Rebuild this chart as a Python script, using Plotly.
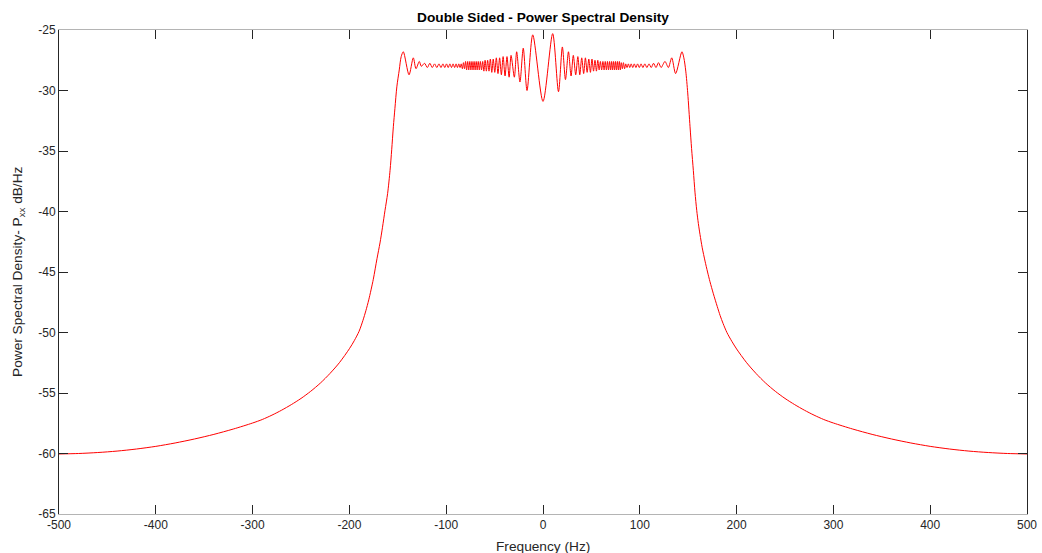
import plotly.graph_objects as go

# ---- data ----
left_tail_freq = [-500, -480, -460, -440, -420, -400, -380, -360, -340, -320, -300, -290,
                  -280, -270, -260, -250, -240, -230, -220, -210, -200, -195, -190, -186,
                  -183, -180, -175.3, -171.5, -168.4, -165.8, -163.2, -160.5, -158, -156.3,
                  -154.6, -153, -151, -148.5, -146.5]
left_tail_db = [-60.04, -60.0, -59.92, -59.8, -59.63, -59.41, -59.13, -58.8, -58.42, -57.98, -57.48, -57.19,
                -56.83, -56.42, -55.96, -55.45, -54.86, -54.18, -53.38, -52.46, -51.34, -50.68, -49.9, -49.0,
                -48.2, -47.3, -45.6, -43.9, -42.6, -41.3, -39.9, -38.5, -36.6, -34.9,
                -33.0, -31.5, -29.7, -28.3, -27.2]

ripple_freq = [-144.3, -138.4, -134, -131.2, -127.8, -125.7, -122.4, -119.5, -116.9, -114.4,
               -112.0, -109.7, -107.5, -105.4, -103.4, -101.5, -99.7, -97.9, -96.2, -94.5,
               -92.9, -91.3, -89.8, -88.4, -87.0, -85.7, -84.5, -83.3, -82.2, -81.1,
               -80.0, -78.9, -77.8, -76.7, -75.6, -74.5, -73.4, -72.3, -71.2, -70.1,
               -69.0, -68.0, -66.9, -65.8, -64.7, -63.5, -62.3, -61.1, -59.8, -58.5,
               -57.2, -55.8, -54.4, -52.9, -51.4, -49.8, -48.2, -46.5, -44.8, -43.0,
               -41.2, -39.2, -37.2, -35, -33, -29.6, -27.2, -23.8, -20.4, -16.5,
               -10.6, 0,
               10, 16, 20, 23.2, 26.3, 29, 31.3, 33.8, 36, 38,
               40, 42, 43.8, 45.6, 47.3, 49, 50.6, 52.2, 53.7, 55.2,
               56.6, 58, 59.3, 60.6, 61.9, 63.1, 64.3, 65.5, 66.6, 67.7,
               68.8, 69.9, 70.9, 71.9, 72.9, 73.9, 74.9, 75.9, 76.9, 77.9,
               78.9, 79.9, 80.9, 82, 83.1, 84.3, 85.5, 86.8, 88.2, 89.6,
               91.1, 92.7, 94.3, 96, 97.7, 99.5, 101.3, 103.2, 105.2, 107.3,
               109.5, 111.8, 114.2, 116.7, 119.3, 122, 126, 129.5, 133, 137,
               143.5]
ripple_db = [-26.8, -28.7, -27.3, -28.2, -27.6, -28.0, -27.75, -28.1, -27.75, -28.1,
             -27.8, -28.1, -27.8, -28.1, -27.8, -28.1, -27.8, -28.1, -27.8, -28.1,
             -27.8, -28.1, -27.8, -28.1, -27.8, -28.1, -27.8, -28.2, -27.7, -28.2,
             -27.6, -28.3, -27.6, -28.3, -27.6, -28.3, -27.6, -28.3, -27.6, -28.3,
             -27.6, -28.3, -27.6, -28.3, -27.6, -28.3, -27.6, -28.4, -27.5, -28.4,
             -27.5, -28.4, -27.4, -28.5, -27.4, -28.5, -27.3, -28.6, -27.3, -28.7,
             -27.2, -28.8, -27.2, -28.9, -27.1, -28.9, -26.8, -29.3, -26.5, -30.0,
             -25.4, -30.9,
             -25.3, -30.1, -26.4, -29.1, -26.8, -28.8, -27.1, -28.7, -27.2, -28.7,
             -27.3, -28.6, -27.3, -28.5, -27.4, -28.5, -27.4, -28.4, -27.5, -28.4,
             -27.5, -28.3, -27.6, -28.3, -27.6, -28.3, -27.6, -28.3, -27.6, -28.3,
             -27.6, -28.3, -27.6, -28.3, -27.6, -28.3, -27.6, -28.3, -27.6, -28.3,
             -27.6, -28.3, -27.7, -28.2, -27.7, -28.2, -27.8, -28.1, -27.8, -28.1,
             -27.8, -28.1, -27.8, -28.1, -27.8, -28.1, -27.8, -28.1, -27.8, -28.1,
             -27.8, -28.1, -27.75, -28.1, -27.7, -28.1, -27.6, -28.1, -27.3, -28.6,
             -26.8]

right_tail_freq = [145.5, 147.5, 149.5, 151.9, 153.5, 155.3, 157, 158.8, 160.5, 162.2,
                   164.5, 167.4, 170, 172.5, 176, 180, 183, 186, 190, 195, 200,
                   210, 220, 230, 240, 250, 260, 270, 280, 290, 300,
                   320, 340, 360, 380, 400, 420, 440, 460, 480, 500]
right_tail_db = [-27.3, -28.4, -30.2, -33.0, -34.8, -36.6, -38.4, -39.9, -41.0, -41.9,
                 -43.0, -44.1, -45.0, -45.8, -46.8, -47.85, -48.6, -49.25, -50.0, -50.72, -51.36,
                 -52.46, -53.38, -54.18, -54.86, -55.45, -55.96, -56.42, -56.83, -57.19, -57.48,
                 -57.98, -58.42, -58.8, -59.13, -59.41, -59.63, -59.8, -59.92, -60.0, -60.04]

x_ticks = [-500, -400, -300, -200, -100, 0, 100, 200, 300, 400, 500]
y_ticks = [-65, -60, -55, -50, -45, -40, -35, -30, -25]

freq = left_tail_freq + ripple_freq + right_tail_freq
psd = left_tail_db + ripple_db + right_tail_db

font_family = "Arial, Liberation Sans, Helvetica, sans-serif"
txt = "#262626"
label_size = 13.7

fig = go.Figure()
fig.add_trace(go.Scatter(x=freq, y=psd, mode="lines",
                         line=dict(color="#ff0000", width=1, shape="spline", smoothing=0.8),
                         hoverinfo="x+y", showlegend=False))

fig.update_layout(
    width=1042, height=553, autosize=False,
    margin=dict(l=59, r=15, t=30, b=39, autoexpand=False),
    paper_bgcolor="white", plot_bgcolor="white",
    font=dict(family=font_family, size=12, color=txt),
    title=dict(text="<b>Double Sided - Power Spectral Density</b>",
               x=0.5, xref="paper", xanchor="center",
               y=1 - 17 / 553, yref="container", yanchor="middle",
               font=dict(family=font_family, size=label_size, color="black")),
    annotations=[
        dict(text="Frequency (Hz)", x=0.5, y=0, xref="paper", yref="paper",
             xanchor="center", yanchor="top", yshift=-23, showarrow=False,
             font=dict(family=font_family, size=label_size, color=txt)),
        dict(text="Power Spectral Density- P<sub>xx</sub> dB/Hz", x=0, y=0.5,
             xref="paper", yref="paper", xanchor="center", yanchor="middle",
             xshift=-41, textangle=-90, showarrow=False,
             font=dict(family=font_family, size=label_size, color=txt)),
    ],
)

fig.update_xaxes(range=[-500, 500], tickvals=x_ticks, ticktext=[str(v) for v in x_ticks],
                 showgrid=False, zeroline=False, automargin=False,
                 showline=True, linecolor="#b4b4b4", linewidth=1, mirror="ticks",
                 ticks="inside", ticklen=9, tickwidth=1, tickcolor="#262626",
                 tickfont=dict(family=font_family, size=12, color=txt))
fig.update_yaxes(range=[-65, -25], tickvals=y_ticks, ticktext=[str(v) for v in y_ticks],
                 showgrid=False, zeroline=False, automargin=False,
                 showline=True, linecolor="#262626", linewidth=1, mirror="ticks",
                 ticks="inside", ticklen=9, tickwidth=1, tickcolor="#262626",
                 tickfont=dict(family=font_family, size=12, color=txt))

fig.write_html("out.html", config={"displayModeBar": False, "responsive": False},
               post_script="document.body.style.margin='0px';document.body.style.overflow='hidden';")
